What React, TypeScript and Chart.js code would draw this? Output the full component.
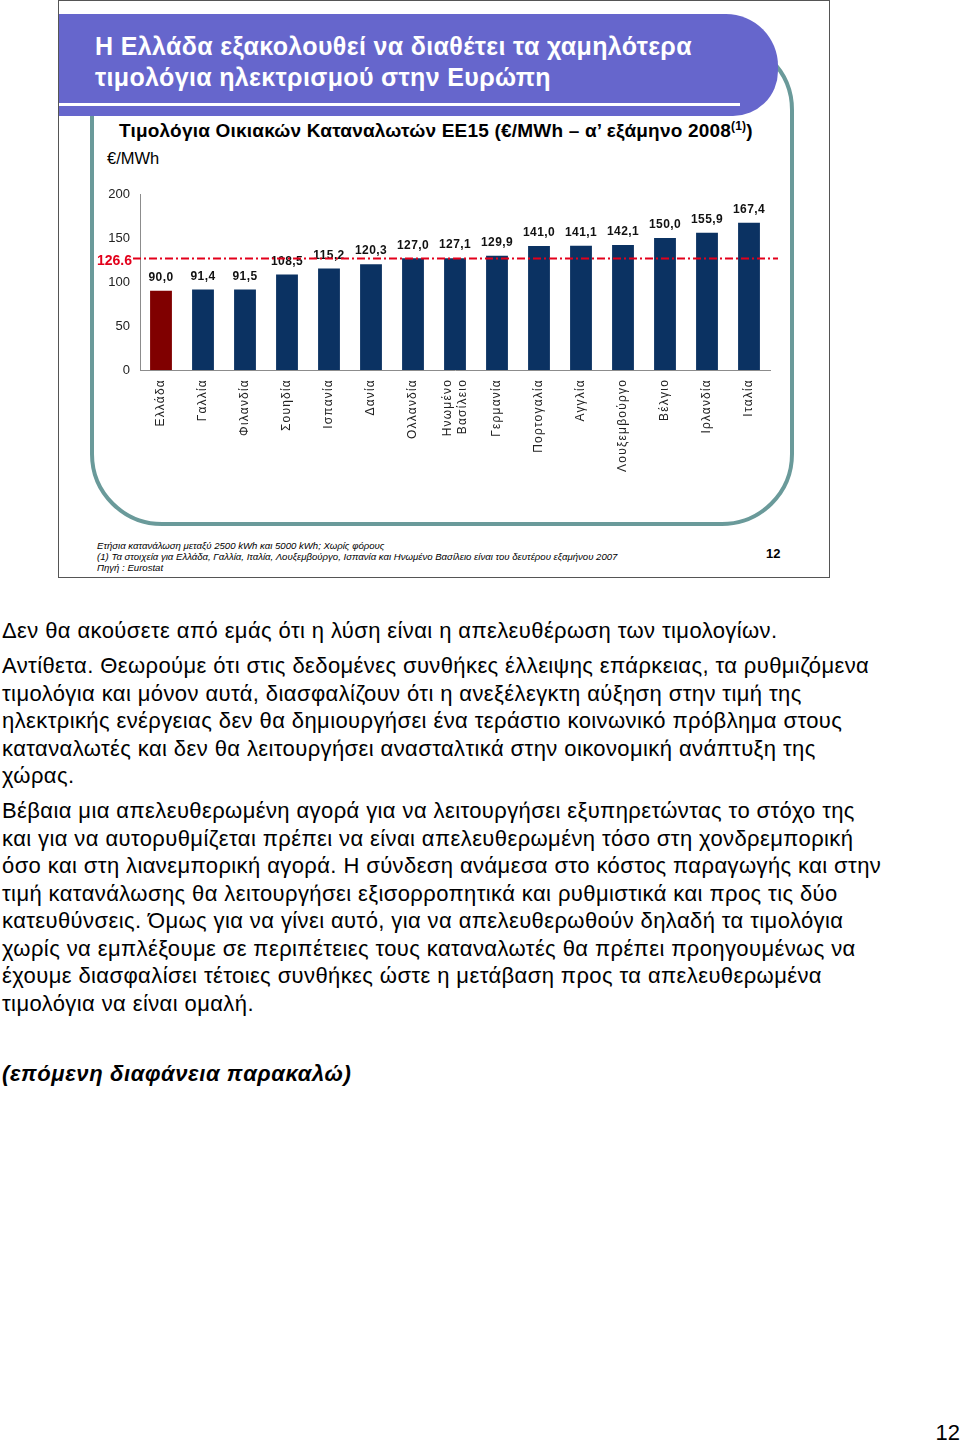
import React, { useEffect, useRef } from "react";
import { Chart, registerables } from "chart.js";

Chart.register(...registerables);

// ---- data ----
const categories: string[][] = [
  ["Ελλάδα"],
  ["Γαλλία"],
  ["Φιλανδία"],
  ["Σουηδία"],
  ["Ισπανία"],
  ["Δανία"],
  ["Ολλανδία"],
  ["Ηνωμένο", "Βασίλειο"],
  ["Γερμανία"],
  ["Πορτογαλία"],
  ["Αγγλία"],
  ["Λουξεμβούργο"],
  ["Βέλγιο"],
  ["Ιρλανδία"],
  ["Ιταλία"],
];
const prices: number[] = [90.0, 91.4, 91.5, 108.5, 115.2, 120.3, 127.0, 127.1, 129.9, 141.0, 141.1, 142.1, 150.0, 155.9, 167.4];
const averagePrice = 126.6;
const averageLabel = "126.6";
const yTickValues: number[] = [0, 50, 100, 150, 200];
const highlightIndex = 0;

const NAVY = "#0b3262";
const DARKRED = "#800000";
const RED = "#e3001b";
const FONT = '"Liberation Sans", Arial, Helvetica, sans-serif';

const overlayPlugin = {
  id: "overlay",
  afterDatasetsDraw(chart: any) {
    const ctx = chart.ctx as CanvasRenderingContext2D;
    const xs = chart.scales.x;
    const ys = chart.scales.y;
    const area = chart.chartArea;
    const meta = chart.getDatasetMeta(0);

    // value labels
    ctx.save();
    ctx.font = `bold 12px ${FONT}`;
    ctx.fillStyle = "#111";
    ctx.textAlign = "center";
    ctx.textBaseline = "middle";
    (ctx as any).letterSpacing = "0.4px";
    meta.data.forEach((el: any, i: number) => {
      const txt = prices[i].toFixed(1).replace(".", ",");
      ctx.fillText(txt, el.x, el.y - 13);
    });
    ctx.restore();

    // average line
    const yy = ys.getPixelForValue(averagePrice);
    ctx.save();
    ctx.strokeStyle = RED;
    ctx.lineWidth = 2;
    ctx.setLineDash([8, 3, 2, 3]);
    ctx.beginPath();
    ctx.moveTo(area.left - 7, yy);
    ctx.lineTo(area.right + 8, yy);
    ctx.stroke();
    ctx.setLineDash([]);
    ctx.font = `bold 14px ${FONT}`;
    ctx.fillStyle = RED;
    ctx.textAlign = "right";
    ctx.textBaseline = "middle";
    ctx.fillText(averageLabel, area.left - 8, yy + 3);
    ctx.restore();

    // category labels (rotated)
    ctx.save();
    ctx.font = `12px ${FONT}`;
    ctx.fillStyle = "#222";
    (ctx as any).letterSpacing = "1.2px";
    categories.forEach((lines, i) => {
      const px = xs.getPixelForValue(i);
      ctx.save();
      ctx.translate(px, area.bottom + 9);
      ctx.rotate(-Math.PI / 2);
      ctx.textAlign = "right";
      ctx.textBaseline = "middle";
      const n = lines.length;
      lines.forEach((l, j) => {
        ctx.fillText(l, 0, (j - (n - 1) / 2) * 15);
      });
      ctx.restore();
    });
    ctx.restore();
  },
};

function PriceChart() {
  const ref = useRef<HTMLCanvasElement | null>(null);
  useEffect(() => {
    if (!ref.current) return;
    const chart = new Chart(ref.current, {
      type: "bar",
      data: {
        labels: categories.map((c) => c.join(" ")),
        datasets: [
          {
            data: prices,
            backgroundColor: prices.map((_, i) => (i === highlightIndex ? DARKRED : NAVY)),
            borderWidth: 0,
            barPercentage: 0.52,
            categoryPercentage: 1,
          },
        ],
      },
      options: {
        animation: false,
        responsive: false,
        devicePixelRatio: 1,
        layout: { padding: { left: 0, top: 14, right: 20, bottom: 110 } },
        plugins: {
          legend: { display: false },
          tooltip: { enabled: false },
          title: { display: false },
        },
        scales: {
          x: {
            type: "category",
            offset: true,
            grid: { display: false, drawTicks: false },
            border: { display: true, color: "#8c8c8c", width: 1 },
            ticks: { display: false },
          },
          y: {
            min: 0,
            max: 200,
            afterBuildTicks: (scale: any) => {
              scale.ticks = yTickValues.map((v) => ({ value: v }));
            },
            afterFit: (scale: any) => {
              scale.width = 50;
              scale.paddingTop = 0;
              scale.paddingBottom = 0;
            },
            grid: { display: false, drawTicks: false },
            border: { display: true, color: "#8c8c8c", width: 1 },
            ticks: {
              padding: 10,
              color: "#222",
              font: { family: FONT, size: 13 },
            },
          },
        },
      },
      plugins: [overlayPlugin],
    } as any);
    return () => chart.destroy();
  }, []);
  return (
    <canvas
      ref={ref}
      width={700}
      height={300}
      style={{ position: "absolute", left: 90, top: 180, width: 700, height: 300 }}
    />
  );
}

export default function App() {
  const bodyText: React.CSSProperties = {
    position: "absolute",
    left: 2,
    fontSize: 22,
    letterSpacing: "0.4px",
    lineHeight: "27.5px",
    color: "#000",
    whiteSpace: "nowrap",
  };
  return (
    <div
      style={{
        position: "absolute",
        left: 0,
        top: 0,
        width: 960,
        height: 1445,
        background: "#fff",
        fontFamily: FONT,
        overflow: "hidden",
      }}
    >
      {/* slide frame */}
      <div
        style={{
          position: "absolute",
          left: 58,
          top: 0,
          width: 770,
          height: 576,
          border: "1px solid #555",
          background: "#fff",
        }}
      />
      {/* teal rounded frame */}
      <div
        style={{
          position: "absolute",
          left: 90,
          top: 38,
          width: 696,
          height: 480,
          border: "4px solid #6a9a9a",
          borderRadius: 72,
        }}
      />
      {/* banner */}
      <div
        style={{
          position: "absolute",
          left: 59,
          top: 14,
          width: 719,
          height: 102,
          background: "#6666cc",
          borderTopRightRadius: 52,
          borderBottomRightRadius: 45,
        }}
      />
      <div style={{ position: "absolute", left: 59, top: 103, width: 681, height: 3, background: "#fff" }} />
      <div
        style={{
          position: "absolute",
          left: 95,
          top: 31,
          color: "#fff",
          fontWeight: "bold",
          fontSize: 25,
          letterSpacing: "0.35px",
          lineHeight: "31px",
          whiteSpace: "nowrap",
        }}
      >
        Η Ελλάδα εξακολουθεί να διαθέτει τα χαμηλότερα
        <br />
        τιμολόγια ηλεκτρισμού στην Ευρώπη
      </div>
      {/* subtitle */}
      <div
        style={{
          position: "absolute",
          left: 119,
          top: 120,
          fontWeight: "bold",
          fontSize: 19,
          letterSpacing: "0.2px",
          lineHeight: "22px",
          whiteSpace: "nowrap",
          color: "#000",
        }}
      >
        Τιμολόγια Οικιακών Καταναλωτών ΕΕ15 (€/MWh – α’ εξάμηνο 2008
        <sup style={{ fontSize: 12, verticalAlign: "7px", lineHeight: 0 }}>(1)</sup>)
      </div>
      <div style={{ position: "absolute", left: 107, top: 149, fontSize: 16.5, lineHeight: "18px", color: "#000" }}>
        €/MWh
      </div>

      <PriceChart />

      {/* footnotes */}
      <div
        style={{
          position: "absolute",
          left: 97,
          top: 540,
          fontSize: 9.6,
          lineHeight: "11px",
          fontStyle: "italic",
          color: "#000",
          whiteSpace: "nowrap",
        }}
      >
        Ετήσια κατανάλωση μεταξύ 2500 kWh και 5000 kWh; Χωρίς φόρους
        <br />
        (1) Τα στοιχεία για Ελλάδα, Γαλλία, Ιταλία, Λουξεμβούργο, Ισπανία και Ηνωμένο Βασίλειο είναι του δευτέρου εξαμήνου 2007
        <br />
        Πηγή : Eurostat
      </div>
      <div style={{ position: "absolute", left: 766, top: 546, fontSize: 13, fontWeight: "bold", lineHeight: "15px" }}>12</div>

      {/* body text */}
      <div style={{ ...bodyText, top: 617 }}>
        Δεν θα ακούσετε από εμάς ότι η λύση είναι η απελευθέρωση των τιμολογίων.
      </div>
      <div style={{ ...bodyText, top: 652 }}>
        Αντίθετα. Θεωρούμε ότι στις δεδομένες συνθήκες έλλειψης επάρκειας, τα ρυθμιζόμενα
        <br />
        τιμολόγια και μόνον αυτά, διασφαλίζουν ότι η ανεξέλεγκτη αύξηση στην τιμή της
        <br />
        ηλεκτρικής ενέργειας δεν θα δημιουργήσει ένα τεράστιο κοινωνικό πρόβλημα στους
        <br />
        καταναλωτές και δεν θα λειτουργήσει ανασταλτικά στην οικονομική ανάπτυξη της
        <br />
        χώρας.
      </div>
      <div style={{ ...bodyText, top: 797 }}>
        Βέβαια μια απελευθερωμένη αγορά για να λειτουργήσει εξυπηρετώντας το στόχο της
        <br />
        και για να αυτορυθμίζεται πρέπει να είναι απελευθερωμένη τόσο στη χονδρεμπορική
        <br />
        όσο και στη λιανεμπορική αγορά. Η σύνδεση ανάμεσα στο κόστος παραγωγής και στην
        <br />
        τιμή κατανάλωσης θα λειτουργήσει εξισορροπητικά και ρυθμιστικά και προς τις δύο
        <br />
        κατευθύνσεις. Όμως για να γίνει αυτό, για να απελευθερωθούν δηλαδή τα τιμολόγια
        <br />
        χωρίς να εμπλέξουμε σε περιπέτειες τους καταναλωτές θα πρέπει προηγουμένως να
        <br />
        έχουμε διασφαλίσει τέτοιες συνθήκες ώστε η μετάβαση προς τα απελευθερωμένα
        <br />
        τιμολόγια να είναι ομαλή.
      </div>
      <div style={{ ...bodyText, top: 1060, fontWeight: "bold", fontStyle: "italic", letterSpacing: "0.6px" }}>
        (επόμενη διαφάνεια παρακαλώ)
      </div>
      <div style={{ position: "absolute", right: 0, top: 1420, fontSize: 22, lineHeight: "26px", color: "#000" }}>
        12
      </div>
    </div>
  );
}
